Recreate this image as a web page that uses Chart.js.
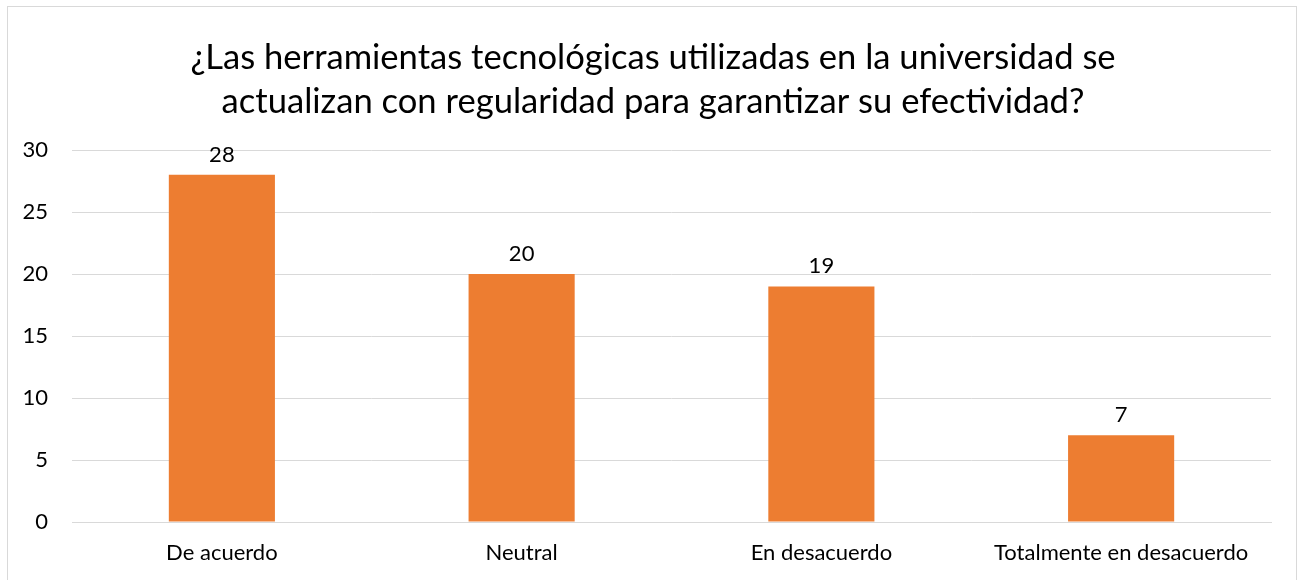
<!DOCTYPE html>
<html>
<head>
<meta charset="utf-8">
<script src="https://cdn.jsdelivr.net/npm/chart.js@4/dist/chart.umd.min.js"></script>
<style>
  html, body { margin: 0; padding: 0; background: #fff; }
  #wrap { width: 1303px; height: 580px; position: relative; }
</style>
</head>
<body>
<div id="wrap"><canvas id="myChart" width="1303" height="580"></canvas></div>
<script>
var categories = ['De acuerdo', 'Neutral', 'En desacuerdo', 'Totalmente en desacuerdo'];
var values = [28, 20, 19, 7];
var yTicks = [0, 5, 10, 15, 20, 25, 30];
var titleLines = ['¿Las herramientas tecnológicas utilizadas en la universidad se', 'actualizan con regularidad para garantizar su efectividad?'];

var fontFamily = 'Lato, "Noto Sans", sans-serif';

// outer frame of the chart + the title (centred on the frame, not on the plot)
var framePlugin = {
    id: 'frame',
    beforeDraw: function (chart) {
        var ctx = chart.ctx;
        ctx.save();
        ctx.fillStyle = '#fff';
        ctx.fillRect(0, 0, chart.width, chart.height);
        ctx.strokeStyle = '#d9d9d9';
        ctx.lineWidth = 1;
        ctx.strokeRect(7.5, 6.5, 1289, 600);
        ctx.font = '34.6px ' + fontFamily;
        ctx.fillStyle = '#000';
        ctx.textAlign = 'center';
        ctx.textBaseline = 'middle';
        titleLines.forEach(function (line, i) {
            ctx.fillText(line, 653, 58 + i * 44);
        });
        ctx.restore();
    }
};

// value labels above the bars
var valueLabels = {
    id: 'valueLabels',
    afterDatasetsDraw: function (chart) {
        var ctx = chart.ctx;
        var meta = chart.getDatasetMeta(0);
        ctx.save();
        ctx.font = '22px ' + fontFamily;
        ctx.fillStyle = '#000';
        ctx.textAlign = 'center';
        ctx.textBaseline = 'middle';
        meta.data.forEach(function (bar, i) {
            ctx.fillText(String(values[i]), bar.x, bar.y - 20);
        });
        ctx.restore();
    }
};

var ctx = document.getElementById('myChart').getContext('2d');
var myChart = new Chart(ctx, {
    type: 'bar',
    data: {
        labels: categories,
        datasets: [{
            data: values,
            backgroundColor: '#ED7D31',
            borderWidth: 0,
            categoryPercentage: 1,
            barPercentage: 0.354
        }]
    },
    options: {
        responsive: false,
        animation: false,
        layout: { padding: { left: 20, right: 32, top: 150, bottom: 0 } },
        plugins: {
            legend: { display: false },
            tooltip: { enabled: false },
            title: { display: false }
        },
        scales: {
            x: {
                afterFit: function (scale) { scale.height = 58; },
                grid: { display: false, drawTicks: false },
                border: { color: '#d9d9d9' },
                ticks: { color: '#000', font: { family: fontFamily, size: 22 }, padding: 18 }
            },
            y: {
                min: 0,
                max: 30,
                afterBuildTicks: function (scale) {
                    scale.ticks = yTicks.map(function (v) { return { value: v }; });
                },
                afterFit: function (scale) { scale.width = 52; },
                grid: { color: '#d9d9d9', drawTicks: false },
                border: { display: false },
                ticks: { color: '#000', font: { family: fontFamily, size: 22 }, padding: 24 }
            }
        }
    },
    plugins: [framePlugin, valueLabels]
});
</script>
</body>
</html>
